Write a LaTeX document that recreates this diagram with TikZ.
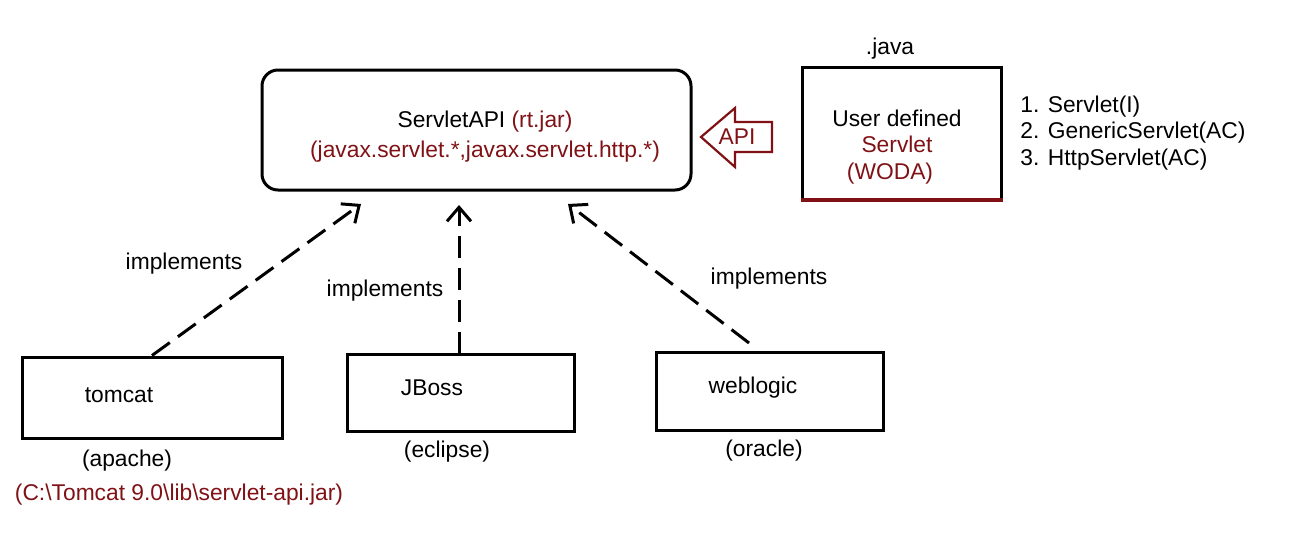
\documentclass[tikz,border=0pt]{standalone}
\usepackage{fontspec}
\setmainfont{Liberation Sans}
\usepackage{tikz}
\usetikzlibrary{arrows.meta,positioning}
\definecolor{darkred}{RGB}{128,18,22}

\begin{document}
\begin{tikzpicture}[x=0.5pt,y=-0.5pt, >={Straight Barb[length=7pt,width=12pt]},
        txt/.style={inner sep=0pt,font=\fontsize{11.4pt}{13.4pt}\selectfont},
        box/.style={draw,line width=1.5pt,inner sep=0pt},
        impl/.style={->,line width=1.5pt,dash pattern=on 11pt off 5pt},
        apiarrow/.style={draw=darkred,line width=1.1pt,line join=miter}]
        \useasboundingbox (0,0) rectangle (1306,546);

        % boxes
        \node[box,rounded corners=8pt,minimum width=214.5pt,minimum height=60pt] (servletapi) at (476.5,130) {};
        \node[box,minimum width=99.5pt,minimum height=66pt]   (user)     at (901.5,133) {};
        \node[box,minimum width=130pt,minimum height=40.5pt]  (tomcat)   at (152,397.5) {};
        \node[box,minimum width=113.5pt,minimum height=38.5pt] (jboss)   at (460.5,392.5) {};
        \node[box,minimum width=113.5pt,minimum height=39pt]  (weblogic) at (769.5,391) {};
        \draw[darkred,line width=2pt] ([yshift=0.5pt]user.south west) -- ([yshift=0.5pt]user.south east);

        % texts
        \node[txt,align=center] (apitxt) at (485,137) {ServletAPI \textcolor{darkred}{(rt.jar)}\\[1.5pt]
                                                       \textcolor{darkred}{(javax.servlet.*,javax.servlet.http.*)}};
        \node[txt,align=center] (usertxt) at (897,147) {User defined\\\textcolor{darkred}{Servlet}\\
                                                        \textcolor{darkred}{(WODA)\hspace*{7pt}}};
        \node[txt] (java)     at (890,49)   {.java};
        \node[txt,anchor=west,align=left] (list) at (1020,133) {1. Servlet(I)\\2. GenericServlet(AC)\\3. HttpServlet(AC)};
        \node[txt] (tomcattxt)   at (119,395) {tomcat};
        \node[txt] (jbosstxt)    at (432,388) {JBoss};
        \node[txt] (weblogictxt) at (753,388) {weblogic};
        \node[txt] (apache)  at (127,461) {(apache)};
        \node[txt] (eclipse) at (447,452) {(eclipse)};
        \node[txt] (oracle)  at (764,451) {(oracle)};
        \node[txt,text=darkred] (jarpath) at (179,495) {(C:\textbackslash Tomcat 9.0\textbackslash lib\textbackslash servlet-api.jar)};
        \node[txt] (impla) at (184,264) {implements};
        \node[txt] (implb) at (385,291) {implements};
        \node[txt] (implc) at (769,279) {implements};

        % API arrow
        \draw[apiarrow] (701,137) -- (735,108) -- (735,122) -- (772,122) -- (772,152)
                        -- (735,152) -- (735,167) -- cycle;
        \node[txt,text=darkred] (api) at (737,137) {API};

        % implements arrows
        \coordinate (tipa) at (361,204);
        \coordinate (tipb) at (459,205);
        \coordinate (tipc) at (568,204);
        \coordinate (tailb) at (459,354);
        \coordinate (tailc) at (749,343);
        \path[impl] (tomcat.north) edge (tipa)
                    (tailb)        edge (tipb)
                    (tailc)        edge (tipc);
\end{tikzpicture}
\end{document}
